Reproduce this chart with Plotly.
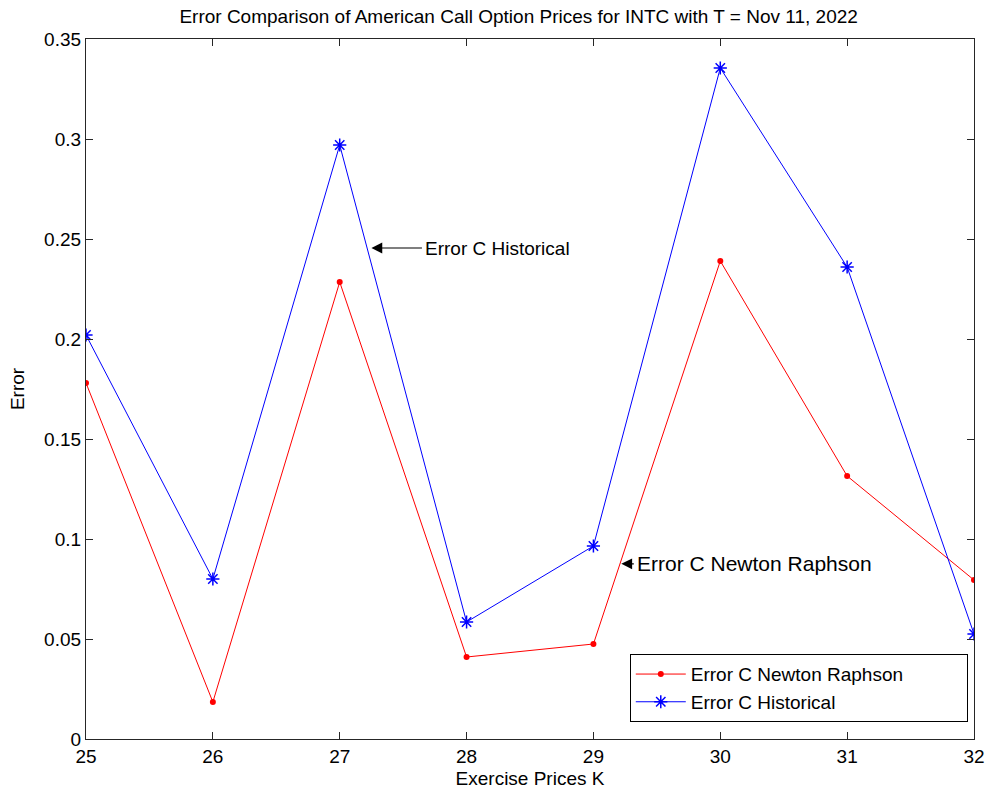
import plotly.graph_objects as go

strikes = [25, 26, 27, 28, 29, 30, 31, 32]
err_newton = [0.178, 0.0185, 0.2285, 0.041, 0.0475, 0.239, 0.1315, 0.0795]
err_hist = [0.202, 0.080, 0.297, 0.0585, 0.0965, 0.3355, 0.236, 0.0525]
series_names = ["Error C Newton Raphson", "Error C Historical"]

title = "Error Comparison of American Call Option Prices for INTC with T = Nov 11, 2022"
font_family = "Liberation Sans, Arial, sans-serif"
FS = 19
PAD = "\u00a0" * 11  # widen legend box like the reference

fig = go.Figure()
fig.add_trace(go.Scatter(
    x=strikes, y=err_newton, mode="lines+markers", name=series_names[0] + PAD,
    line=dict(color="#ff0000", width=1),
    marker=dict(symbol="circle", size=6, color="#ff0000"),
))
fig.add_trace(go.Scatter(
    x=strikes, y=err_hist, mode="lines+markers", name=series_names[1] + PAD,
    line=dict(color="#0000ff", width=1),
    marker=dict(symbol="asterisk-open", size=11, color="#0000ff",
                line=dict(color="#0000ff", width=1.5)),
))

# arrows + labels
arrows = [
    dict(head=(27.25, 0.2455), tail=(27.66, 0.2455), text=series_names[1], size=19),
    dict(head=(29.22, 0.0876), tail=(29.33, 0.0876), text=series_names[0], size=21),
]
for a in arrows:
    fig.add_annotation(x=a["head"][0], y=a["head"][1], ax=a["tail"][0], ay=a["tail"][1],
                       xref="x", yref="y", axref="x", ayref="y", text="",
                       showarrow=True, arrowhead=2, arrowsize=1.8, arrowwidth=1.2,
                       arrowcolor="black")
    fig.add_annotation(x=a["tail"][0], y=a["tail"][1], xref="x", yref="y",
                       text=a["text"], showarrow=False, xanchor="left", yanchor="middle",
                       xshift=0, font=dict(size=a["size"], color="black", family=font_family))

axis_common = dict(
    showline=True, linecolor="#262626", linewidth=1.2, mirror="ticks",
    ticks="inside", ticklen=7, tickcolor="#262626", tickwidth=1,
    showgrid=False, zeroline=False, automargin=False,
    tickfont=dict(size=FS, color="black", family=font_family),
)

fig.update_xaxes(range=[25, 32], tickvals=strikes, ticktext=[str(s) for s in strikes],
                 title=dict(text="Exercise Prices K", standoff=5,
                            font=dict(size=FS, color="black", family=font_family)),
                 **axis_common)
yticks = [0, 0.05, 0.1, 0.15, 0.2, 0.25, 0.3, 0.35]
fig.update_yaxes(range=[0, 0.35], tickvals=yticks,
                 ticktext=["0", "0.05", "0.1", "0.15", "0.2", "0.25", "0.3", "0.35"],
                 title=dict(text="Error", standoff=14,
                            font=dict(size=FS, color="black", family=font_family)),
                 **axis_common)

fig.update_layout(
    width=986, height=794,
    margin=dict(l=86, r=12, t=39, b=55, autoexpand=False),
    paper_bgcolor="white", plot_bgcolor="white",
    title=dict(text=title, x=0.526, xanchor="center", y=0.988, yanchor="top",
               font=dict(size=FS, color="black", family=font_family)),
    showlegend=True,
    legend=dict(x=0.993, y=0.024, xanchor="right", yanchor="bottom",
                bgcolor="white", bordercolor="black", borderwidth=1,
                font=dict(size=FS, color="black", family=font_family),
                itemwidth=50, tracegroupgap=0),
)

fig.write_html("out.html")
